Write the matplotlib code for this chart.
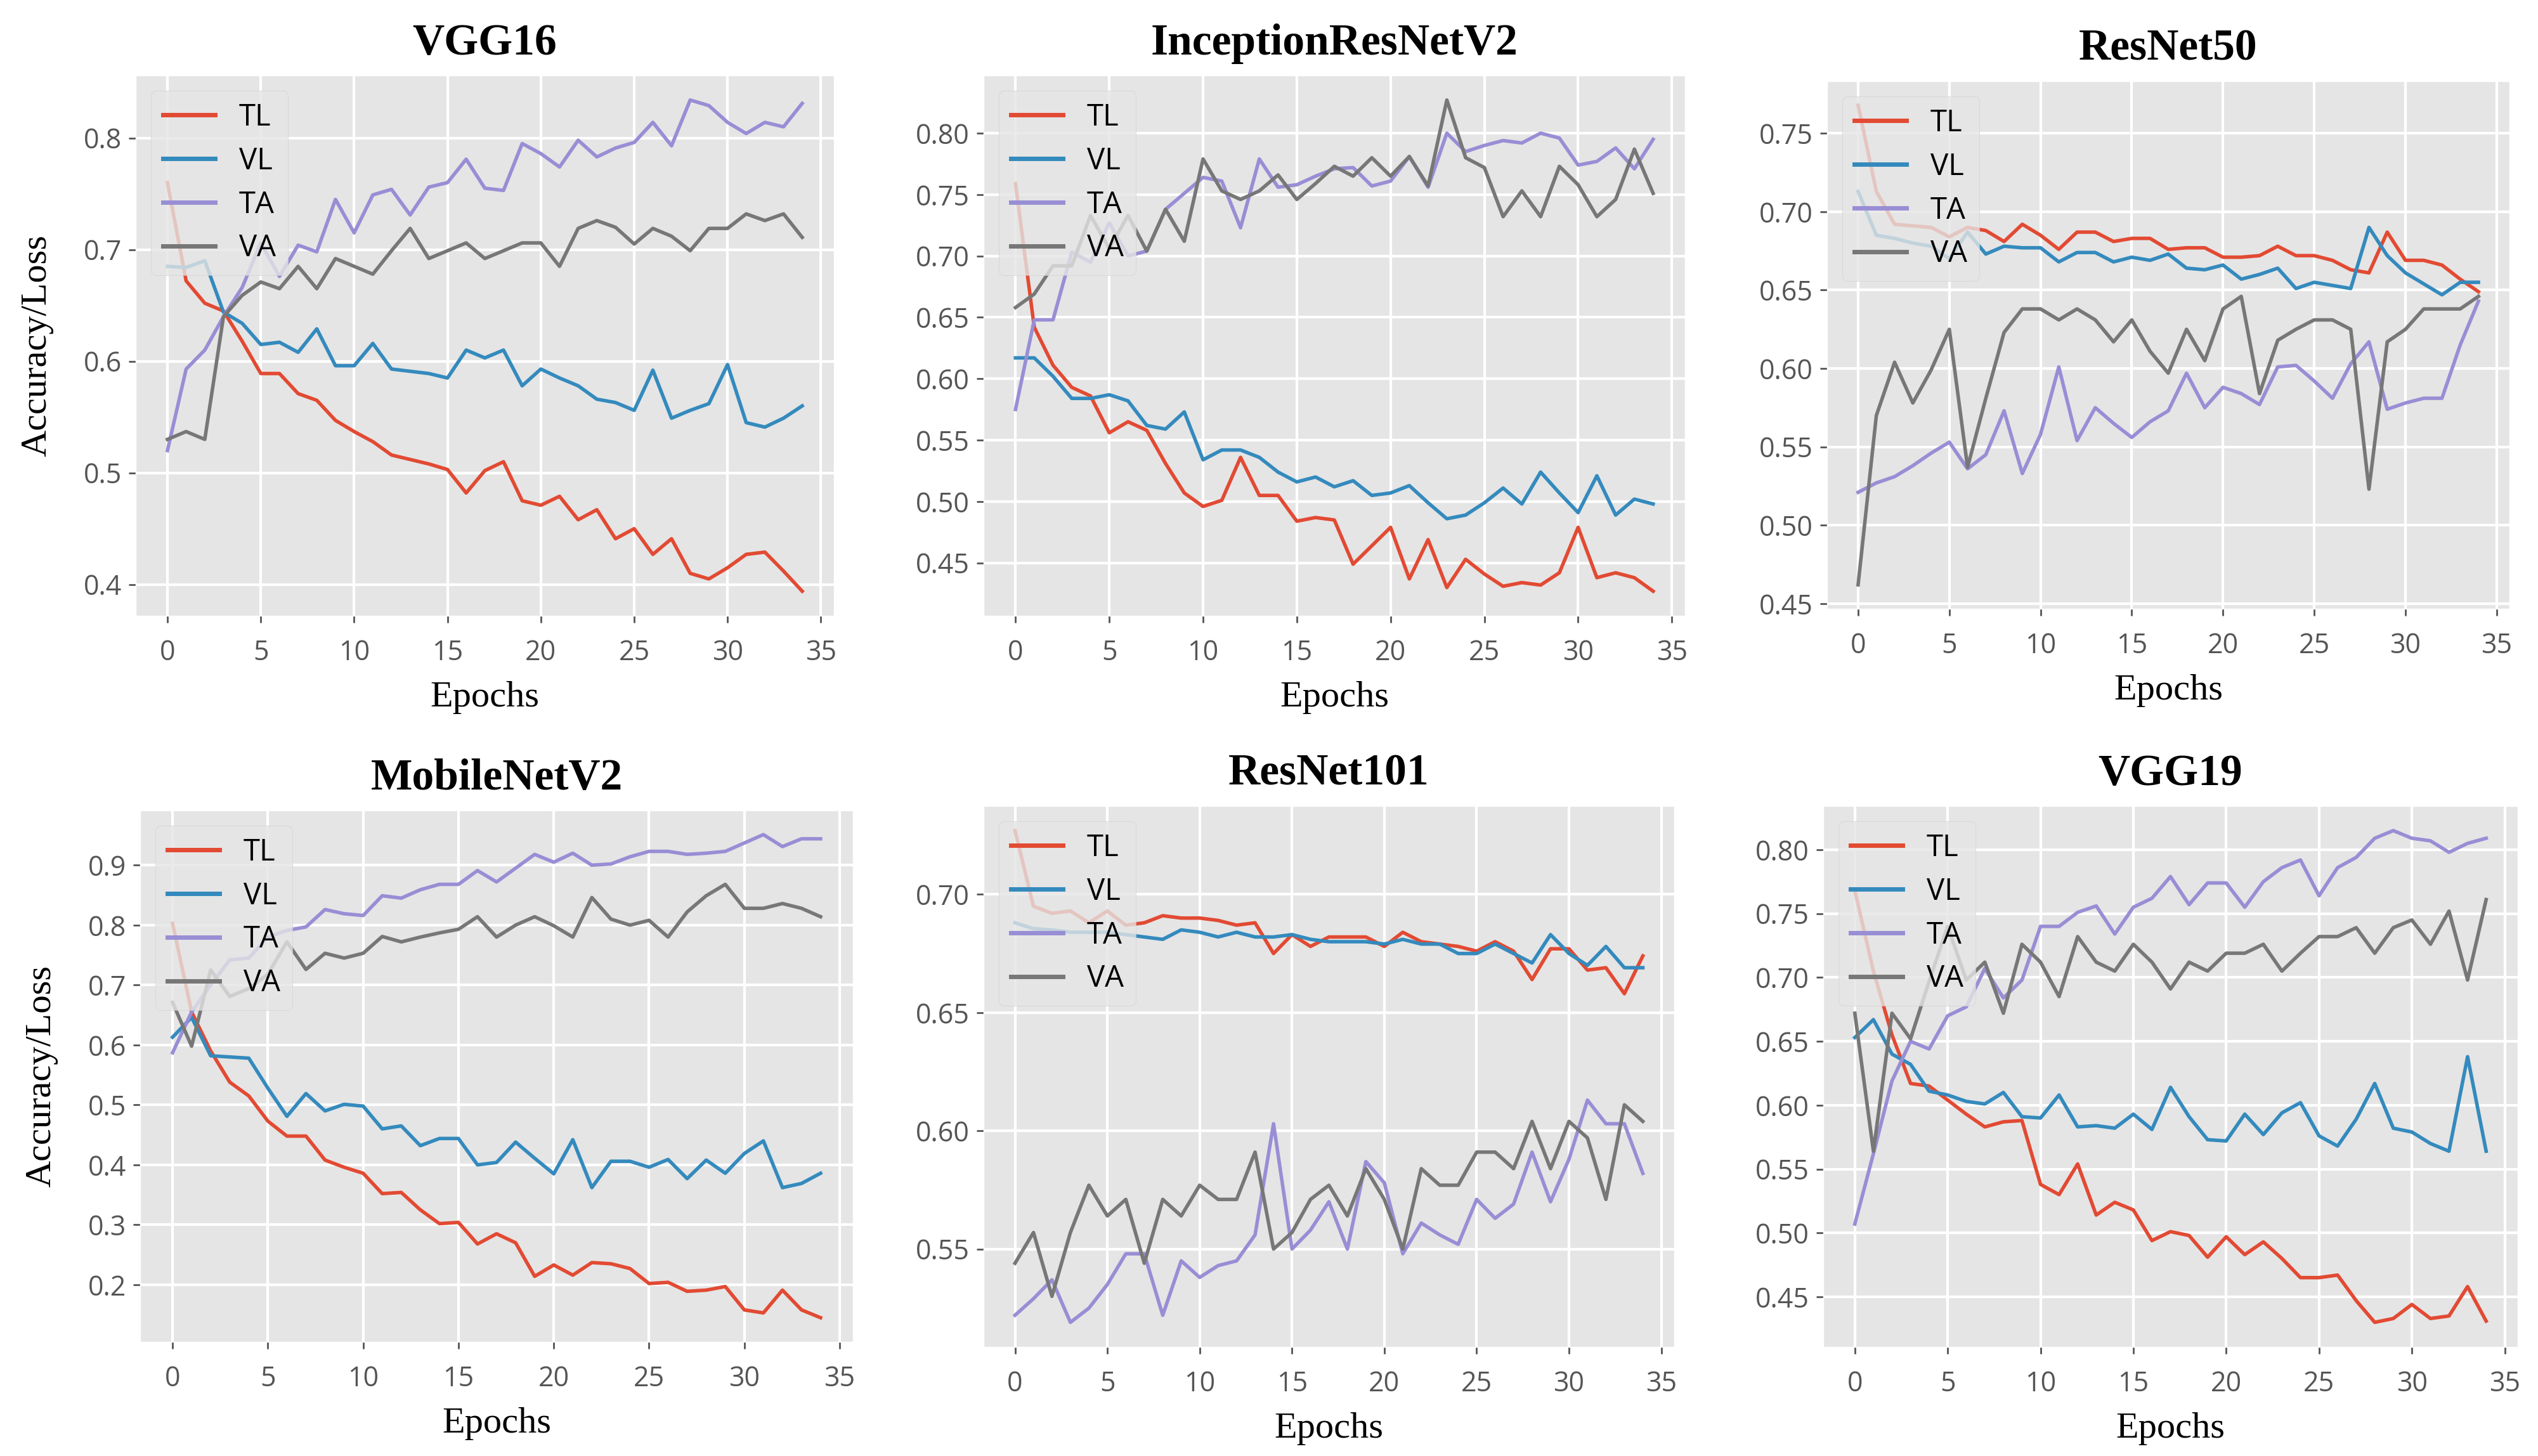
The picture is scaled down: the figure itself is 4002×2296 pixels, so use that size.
import numpy as np
import matplotlib
matplotlib.use('Agg')
import matplotlib.pyplot as plt

plt.style.use('ggplot')

#---------training curves, 35 epochs per model----------#
epochs = np.arange(35)
labels = ['TL', 'VL', 'TA', 'VA']

vgg16_tl = [0.760, 0.672, 0.652, 0.645, 0.618, 0.589, 0.589, 0.571, 0.565, 0.547, 0.537, 0.528, 0.516, 0.512, 0.508, 0.503, 0.482, 0.502, 0.510, 0.475, 0.471, 0.479, 0.458, 0.467, 0.441, 0.450, 0.427, 0.441, 0.410, 0.405, 0.415, 0.427, 0.429, 0.412, 0.394]
vgg16_vl = [0.685, 0.684, 0.690, 0.644, 0.634, 0.615, 0.617, 0.608, 0.629, 0.596, 0.596, 0.616, 0.593, 0.591, 0.589, 0.585, 0.610, 0.603, 0.610, 0.578, 0.593, 0.585, 0.578, 0.566, 0.563, 0.556, 0.592, 0.549, 0.556, 0.562, 0.597, 0.545, 0.541, 0.549, 0.560]
vgg16_ta = [0.520, 0.593, 0.610, 0.640, 0.666, 0.706, 0.676, 0.704, 0.698, 0.745, 0.715, 0.749, 0.754, 0.731, 0.756, 0.760, 0.781, 0.755, 0.753, 0.795, 0.786, 0.774, 0.798, 0.783, 0.791, 0.796, 0.814, 0.793, 0.834, 0.829, 0.814, 0.804, 0.814, 0.810, 0.831]
vgg16_va = [0.530, 0.537, 0.530, 0.640, 0.659, 0.671, 0.665, 0.685, 0.665, 0.692, 0.685, 0.678, 0.699, 0.719, 0.692, 0.699, 0.706, 0.692, 0.699, 0.706, 0.706, 0.685, 0.719, 0.726, 0.720, 0.705, 0.719, 0.712, 0.699, 0.719, 0.719, 0.732, 0.726, 0.732, 0.711]

incres_tl = [0.759, 0.642, 0.611, 0.593, 0.586, 0.556, 0.565, 0.558, 0.531, 0.507, 0.496, 0.501, 0.536, 0.505, 0.505, 0.484, 0.487, 0.485, 0.449, 0.464, 0.479, 0.437, 0.469, 0.430, 0.453, 0.441, 0.431, 0.434, 0.432, 0.442, 0.479, 0.438, 0.442, 0.438, 0.427]
incres_vl = [0.617, 0.617, 0.602, 0.584, 0.584, 0.587, 0.582, 0.562, 0.559, 0.573, 0.534, 0.542, 0.542, 0.536, 0.524, 0.516, 0.520, 0.512, 0.517, 0.505, 0.507, 0.513, 0.499, 0.486, 0.489, 0.499, 0.511, 0.498, 0.524, 0.507, 0.491, 0.521, 0.489, 0.502, 0.498]
incres_ta = [0.575, 0.648, 0.648, 0.703, 0.695, 0.727, 0.700, 0.704, 0.738, 0.751, 0.764, 0.761, 0.723, 0.779, 0.756, 0.758, 0.765, 0.771, 0.772, 0.757, 0.761, 0.781, 0.756, 0.800, 0.785, 0.790, 0.794, 0.792, 0.800, 0.796, 0.774, 0.777, 0.788, 0.771, 0.795]
incres_va = [0.658, 0.669, 0.692, 0.692, 0.733, 0.706, 0.733, 0.704, 0.738, 0.712, 0.779, 0.753, 0.746, 0.753, 0.766, 0.746, 0.759, 0.773, 0.765, 0.780, 0.765, 0.781, 0.757, 0.827, 0.780, 0.772, 0.732, 0.753, 0.732, 0.773, 0.758, 0.732, 0.746, 0.787, 0.751]

res50_tl = [0.768, 0.713, 0.692, 0.691, 0.690, 0.684, 0.690, 0.688, 0.681, 0.692, 0.685, 0.676, 0.687, 0.687, 0.681, 0.683, 0.683, 0.676, 0.677, 0.677, 0.671, 0.671, 0.672, 0.678, 0.672, 0.672, 0.669, 0.663, 0.661, 0.687, 0.669, 0.669, 0.666, 0.657, 0.649]
res50_vl = [0.713, 0.685, 0.683, 0.680, 0.678, 0.670, 0.687, 0.673, 0.678, 0.677, 0.677, 0.668, 0.674, 0.674, 0.668, 0.671, 0.669, 0.673, 0.664, 0.663, 0.666, 0.657, 0.660, 0.664, 0.651, 0.655, 0.653, 0.651, 0.690, 0.672, 0.661, 0.654, 0.647, 0.655, 0.655]
res50_ta = [0.521, 0.527, 0.531, 0.538, 0.546, 0.553, 0.536, 0.545, 0.573, 0.533, 0.558, 0.601, 0.554, 0.575, 0.565, 0.556, 0.566, 0.573, 0.597, 0.575, 0.588, 0.584, 0.577, 0.601, 0.602, 0.592, 0.581, 0.603, 0.617, 0.574, 0.578, 0.581, 0.581, 0.615, 0.643]
res50_va = [0.462, 0.570, 0.604, 0.578, 0.599, 0.625, 0.537, 0.581, 0.623, 0.638, 0.638, 0.631, 0.638, 0.631, 0.617, 0.631, 0.611, 0.597, 0.625, 0.605, 0.638, 0.646, 0.584, 0.618, 0.625, 0.631, 0.631, 0.625, 0.523, 0.617, 0.625, 0.638, 0.638, 0.638, 0.646]

mobile_tl = [0.803, 0.655, 0.590, 0.538, 0.515, 0.473, 0.448, 0.448, 0.408, 0.396, 0.386, 0.352, 0.354, 0.325, 0.302, 0.304, 0.268, 0.285, 0.270, 0.214, 0.233, 0.216, 0.237, 0.235, 0.227, 0.202, 0.204, 0.189, 0.191, 0.197, 0.158, 0.153, 0.191, 0.158, 0.145]
mobile_vl = [0.613, 0.646, 0.582, 0.580, 0.578, 0.528, 0.481, 0.519, 0.490, 0.501, 0.498, 0.460, 0.465, 0.432, 0.444, 0.444, 0.400, 0.404, 0.438, 0.411, 0.385, 0.442, 0.362, 0.406, 0.406, 0.396, 0.409, 0.377, 0.408, 0.386, 0.419, 0.440, 0.362, 0.369, 0.386]
mobile_ta = [0.587, 0.655, 0.700, 0.742, 0.745, 0.780, 0.791, 0.797, 0.826, 0.819, 0.816, 0.849, 0.845, 0.859, 0.868, 0.868, 0.891, 0.872, 0.895, 0.918, 0.905, 0.920, 0.900, 0.902, 0.914, 0.923, 0.923, 0.918, 0.920, 0.923, 0.937, 0.951, 0.931, 0.944, 0.944]
mobile_va = [0.671, 0.598, 0.725, 0.681, 0.694, 0.718, 0.772, 0.726, 0.753, 0.745, 0.753, 0.781, 0.772, 0.780, 0.787, 0.793, 0.814, 0.780, 0.800, 0.814, 0.799, 0.780, 0.846, 0.810, 0.800, 0.808, 0.780, 0.822, 0.849, 0.868, 0.828, 0.828, 0.836, 0.828, 0.814]

res101_tl = [0.727, 0.695, 0.692, 0.693, 0.688, 0.693, 0.687, 0.688, 0.691, 0.690, 0.690, 0.689, 0.687, 0.688, 0.675, 0.683, 0.678, 0.682, 0.682, 0.682, 0.678, 0.684, 0.680, 0.679, 0.678, 0.676, 0.680, 0.676, 0.664, 0.677, 0.677, 0.668, 0.669, 0.658, 0.674]
res101_vl = [0.688, 0.6855, 0.685, 0.684, 0.684, 0.684, 0.683, 0.682, 0.681, 0.685, 0.684, 0.682, 0.684, 0.682, 0.682, 0.683, 0.681, 0.680, 0.680, 0.680, 0.679, 0.681, 0.679, 0.679, 0.675, 0.675, 0.679, 0.675, 0.671, 0.683, 0.675, 0.670, 0.678, 0.669, 0.669]
res101_ta = [0.522, 0.529, 0.537, 0.519, 0.525, 0.535, 0.548, 0.548, 0.522, 0.545, 0.538, 0.543, 0.545, 0.556, 0.603, 0.550, 0.558, 0.570, 0.550, 0.587, 0.578, 0.548, 0.561, 0.556, 0.552, 0.571, 0.563, 0.569, 0.591, 0.570, 0.588, 0.613, 0.603, 0.603, 0.582]
res101_va = [0.544, 0.557, 0.530, 0.557, 0.577, 0.564, 0.571, 0.544, 0.571, 0.564, 0.577, 0.571, 0.571, 0.591, 0.550, 0.557, 0.571, 0.577, 0.564, 0.584, 0.571, 0.550, 0.584, 0.577, 0.577, 0.591, 0.591, 0.584, 0.604, 0.584, 0.604, 0.597, 0.571, 0.611, 0.604]

vgg19_tl = [0.768, 0.705, 0.655, 0.617, 0.615, 0.604, 0.593, 0.583, 0.587, 0.588, 0.538, 0.530, 0.554, 0.514, 0.524, 0.518, 0.494, 0.501, 0.498, 0.481, 0.497, 0.483, 0.493, 0.480, 0.465, 0.465, 0.467, 0.447, 0.430, 0.433, 0.444, 0.433, 0.435, 0.458, 0.431]
vgg19_vl = [0.653, 0.667, 0.640, 0.632, 0.611, 0.608, 0.603, 0.601, 0.610, 0.591, 0.590, 0.608, 0.583, 0.584, 0.582, 0.593, 0.581, 0.614, 0.591, 0.573, 0.572, 0.593, 0.577, 0.594, 0.602, 0.576, 0.568, 0.589, 0.617, 0.582, 0.579, 0.570, 0.564, 0.638, 0.564]
vgg19_ta = [0.507, 0.562, 0.619, 0.650, 0.644, 0.670, 0.677, 0.707, 0.684, 0.698, 0.740, 0.740, 0.751, 0.756, 0.734, 0.755, 0.762, 0.779, 0.757, 0.774, 0.774, 0.755, 0.775, 0.786, 0.792, 0.764, 0.786, 0.794, 0.809, 0.815, 0.809, 0.807, 0.798, 0.805, 0.809]
vgg19_va = [0.672, 0.564, 0.672, 0.652, 0.697, 0.740, 0.698, 0.712, 0.672, 0.726, 0.712, 0.685, 0.732, 0.712, 0.705, 0.726, 0.712, 0.691, 0.712, 0.705, 0.719, 0.719, 0.726, 0.705, 0.719, 0.732, 0.732, 0.739, 0.719, 0.739, 0.745, 0.726, 0.752, 0.698, 0.761]

titles = ['VGG16', 'InceptionResNetV2', 'ResNet50', 'MobileNetV2', 'ResNet101', 'VGG19']
curves = [
    [vgg16_tl, vgg16_vl, vgg16_ta, vgg16_va],
    [incres_tl, incres_vl, incres_ta, incres_va],
    [res50_tl, res50_vl, res50_ta, res50_va],
    [mobile_tl, mobile_vl, mobile_ta, mobile_va],
    [res101_tl, res101_vl, res101_ta, res101_va],
    [vgg19_tl, vgg19_vl, vgg19_ta, vgg19_va],
]
colors = ['#E24A33', '#348ABD', '#988ED5', '#777777']

# axes boxes in pixels: left, right, top, bottom
W, H = 4002, 2296
boxes = [(214, 1315, 119, 971), (1551, 2657, 119, 971), (2881, 3957, 128, 960),
         (221, 1345, 1278, 2116), (1551, 2640, 1271, 2124), (2875, 3970, 1271, 2124)]

fig = plt.figure(figsize=(W / 100, H / 100), dpi=100, facecolor='white')

serif = 'Liberation Serif'
sans = 'Open Sans'

for i in range(6):
    l, r, t, b = boxes[i]
    ax = fig.add_axes([l / W, 1 - b / H, (r - l) / W, (b - t) / H])
    for y, lab, c in zip(curves[i], labels, colors):
        ax.plot(epochs, y, '-', color=c, lw=4, label=lab)
    ax.set_xticks(np.arange(0, 36, 5))
    ax.grid(True, color='white', lw=3)
    ax.tick_params(axis='both', labelsize=31, colors='#555555', length=8, width=2, pad=8)
    ax.tick_params(axis='x', pad=18)
    for lab in ax.get_xticklabels() + ax.get_yticklabels():
        lab.set_fontfamily(sans)
    ax.set_title(titles[i], fontsize=50, fontweight='bold', fontfamily=serif, color='black', pad=24)
    ax.set_xlabel('Epochs', fontsize=42, fontfamily=serif, color='black', labelpad=16)
    if i % 3 == 0:
        ax.set_ylabel('Accuracy/Loss', fontsize=42, fontfamily=serif, color='black', labelpad=34)
    leg = ax.legend(loc='upper left', prop={'family': sans, 'size': 34},
                    handlelength=1.75, labelspacing=0.45, borderpad=0.4, handletextpad=0.8)
    for h in leg.get_lines():
        h.set_linewidth(5)

fig.savefig('out.png', dpi=100, facecolor='white')
